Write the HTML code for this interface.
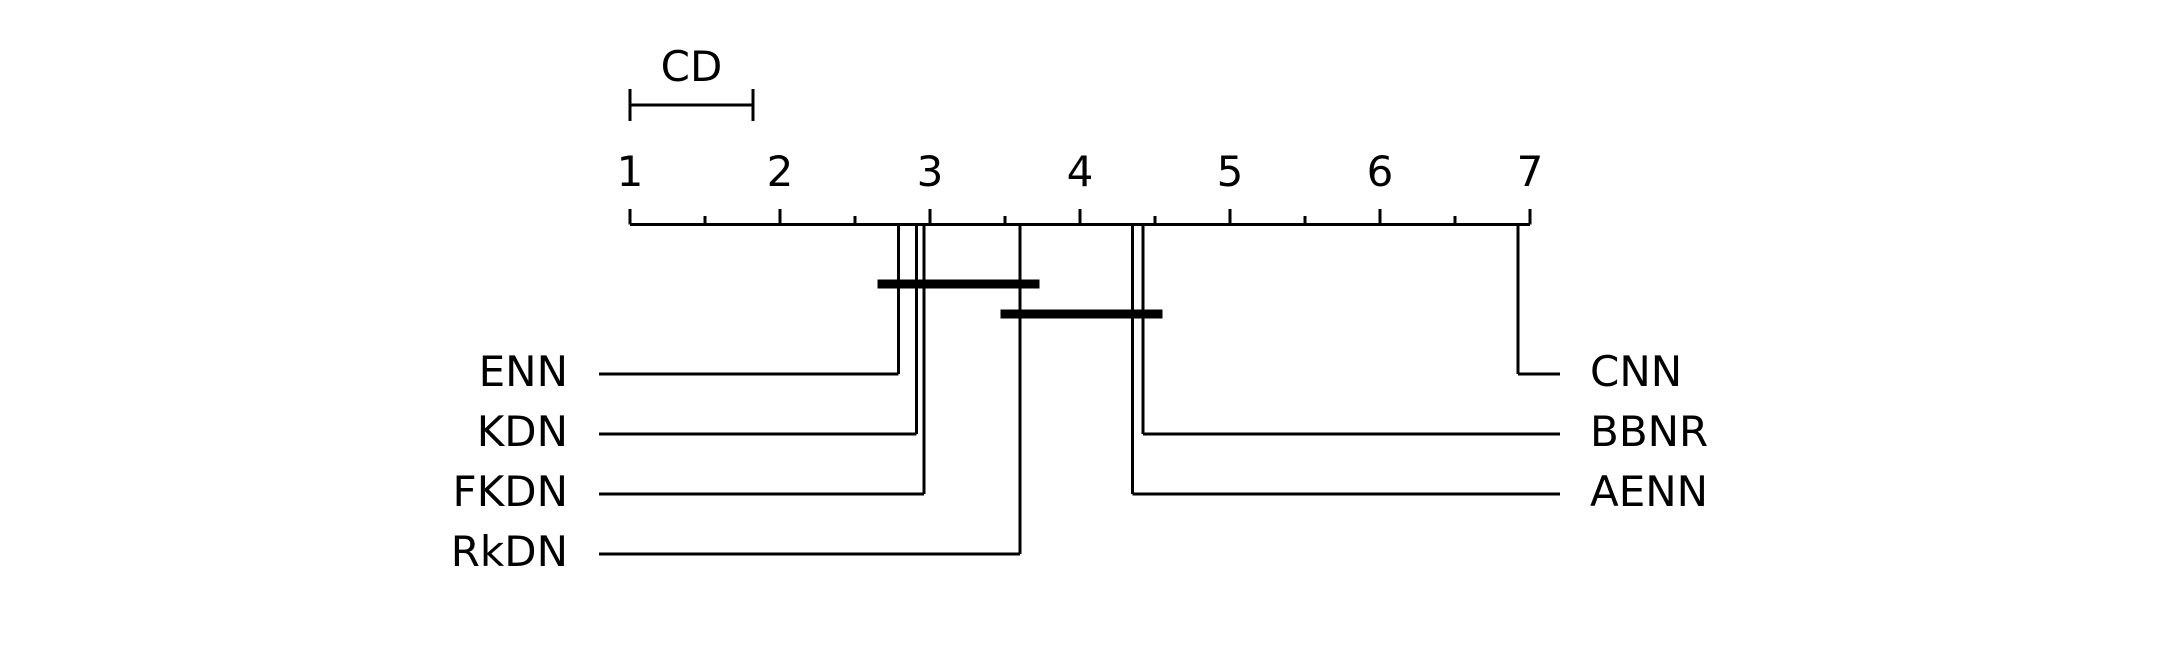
<!DOCTYPE html>
<html><head><meta charset="utf-8"><style>
html,body{margin:0;padding:0;background:#fff;}
svg{display:block;font-family:"DejaVu Sans","Liberation Sans",sans-serif;}
</style></head><body>
<svg id="chart" width="2160" height="645" viewBox="0 0 2160 645" xmlns="http://www.w3.org/2000/svg">
<rect width="2160" height="645" fill="#fff"/>
</svg>
<script>
const tickLabels = ["1","2","3","4","5","6","7"];
const leftNames = ["ENN","KDN","FKDN","RkDN"];
const leftRanks = [2.79, 2.91, 2.96, 3.60];
const rightNames = ["CNN","BBNR","AENN"];
const rightRanks = [6.92, 4.42, 4.35];
const cliqueStarts = [2.65, 3.47];
const cliqueEnds = [3.73, 4.55];
const cdValue = 0.82;

const svg = document.getElementById('chart');
const NS = 'http://www.w3.org/2000/svg';
const x = r => 630 + (r - 1) * 150;
const axisY = 224.5;
const rowY = i => 374 + i * 60;
const cliqueY = i => 284 + i * 30;

function line(x1,y1,x2,y2,w,name){
  const l = document.createElementNS(NS,'line');
  l.setAttribute('x1',x1);l.setAttribute('y1',y1);l.setAttribute('x2',x2);l.setAttribute('y2',y2);
  l.setAttribute('stroke','#000');l.setAttribute('stroke-width',w);
  
  
  svg.appendChild(l);return l;
}
function text(s,tx,ty,anchor,name){
  const t = document.createElementNS(NS,'text');
  t.setAttribute('x',tx);t.setAttribute('y',ty);t.setAttribute('text-anchor',anchor);
  t.setAttribute('font-size','42');t.setAttribute('fill','#000');
  t.textContent = s;
  
  
  svg.appendChild(t);return t;
}
// axis
line(x(1), axisY, x(7), axisY, 3, 'rank-axis-line');
for (let i = 0; i < tickLabels.length; i++) {
  const r = +tickLabels[i];
  line(x(r), 209, x(r), axisY, 3, 'major-tick');
  text(tickLabels[i], x(r), 186, 'middle', 'tick-label');
  if (i < tickLabels.length - 1) line(x(r + 0.5), 216, x(r + 0.5), axisY, 3, 'minor-tick');
}
// CD
line(x(1), 105, x(1 + cdValue), 105, 3, 'cd-bar');
line(x(1), 89, x(1), 121, 3, 'cd-left-cap');
line(x(1 + cdValue), 89, x(1 + cdValue), 121, 3, 'cd-right-cap');
text('CD', (x(1) + x(1 + cdValue)) / 2, 81, 'middle', 'cd-label');
// left methods
leftRanks.forEach((r, i) => {
  line(x(r), axisY, x(r), rowY(i), 3, 'method-connector-vertical');
  line(599, rowY(i), x(r), rowY(i), 3, 'method-connector-horizontal');
  text(leftNames[i], 568, rowY(i) + 12, 'end', 'method-label');
});
// right methods
rightRanks.forEach((r, i) => {
  line(x(r), axisY, x(r), rowY(i), 3, 'method-connector-vertical');
  line(x(r), rowY(i), 1560, rowY(i), 3, 'method-connector-horizontal');
  text(rightNames[i], 1590, rowY(i) + 12, 'start', 'method-label');
});
// cliques
cliqueStarts.forEach((s, i) => {
  line(x(s), cliqueY(i), x(cliqueEnds[i]), cliqueY(i), 9, 'clique-bar');
});
</script>
</body></html>
